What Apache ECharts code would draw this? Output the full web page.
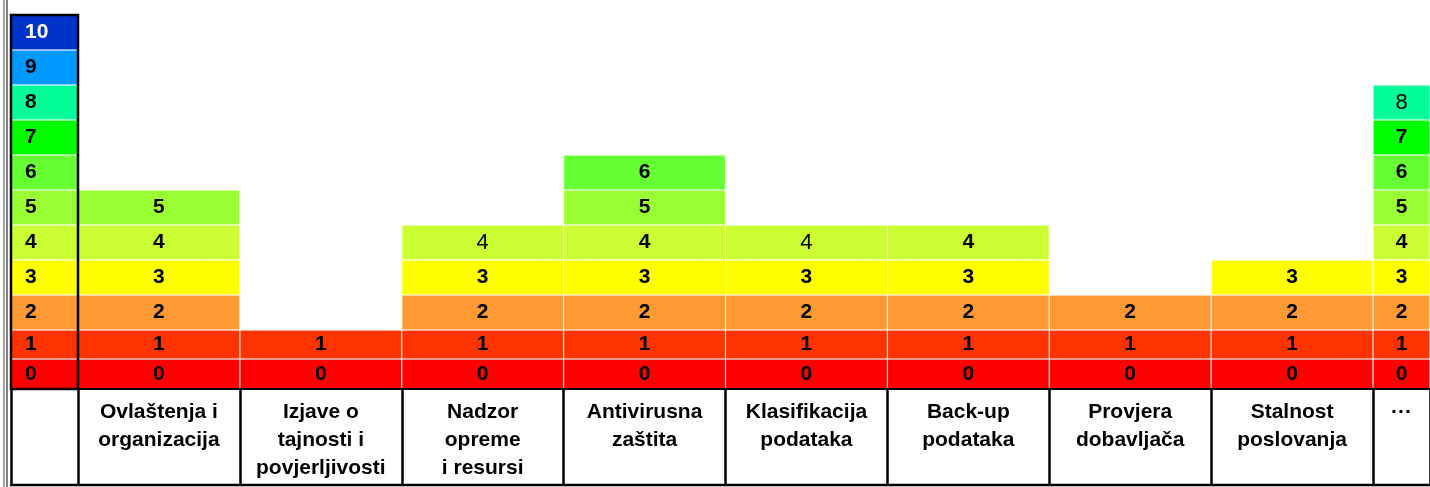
<!DOCTYPE html>
<html>
<head>
<meta charset="utf-8">
<script src="https://cdn.jsdelivr.net/npm/echarts@6/dist/echarts.min.js"></script>
<style>
html,body{margin:0;padding:0;background:#fff;}
#c{width:1430px;height:487px;}
</style>
</head>
<body>
<div id="c"></div>
<script>
// ---- data ----
const categories = ['Ovlaštenja i\norganizacija', 'Izjave o\ntajnosti i\npovjerljivosti', 'Nadzor\nopreme\ni resursi', 'Antivirusna\nzaštita', 'Klasifikacija\npodataka', 'Back-up\npodataka', 'Provjera\ndobavljača', 'Stalnost\nposlovanja'];
const maxLevels = [5, 1, 4, 6, 4, 4, 2, 3];
const moreCategory = ['···'];
const moreLevels = [8];
const scaleCategory = [''];
const scaleLevels = [10];
const levelLabels = ['0','1','2','3','4','5','6','7','8','9','10'];
// cells drawn with the plain (non-bold) font: [group, categoryIndex, level]
const plainCells = [['main', 2, 4], ['main', 4, 4], ['more', 0, 8]];

// ---- style ----
const levelColors = ['#FF0000','#FF3300','#FF9933','#FFFF00','#CCFF33','#99FF33','#66FF33','#00FF00','#00FF99','#0099FF','#0033CC'];
const cellHeights = [30, 29, 35, 35, 35, 35, 35, 35, 35, 35, 35];
const total = cellHeights.reduce((a, b) => a + b, 0);
const W = 1430, H = 487;
const TOP = 15, BOTTOM = 98, TABLE_H = 96;
const L0 = 11, L1 = 78, L2 = 1373;
const numFont = "'Liberation Sans', Arial, sans-serif";

const groups = [
  {name: 'scale', cats: scaleCategory, levels: scaleLevels, left: L0, width: L1 - L0},
  {name: 'main', cats: categories, levels: maxLevels, left: L1, width: L2 - L1},
  {name: 'more', cats: moreCategory, levels: moreLevels, left: L2, width: W - L2 + 4}
];

const grid = [], xAxis = [], yAxis = [], series = [];
groups.forEach((g, gi) => {
  grid.push({left: g.left, width: g.width, top: TOP, bottom: BOTTOM, containLabel: false});
  xAxis.push({
    type: 'category', gridIndex: gi, data: g.cats, z: 10,
    axisLine: {show: true, lineStyle: {color: '#000', width: 2}},
    axisTick: {show: true, length: TABLE_H, inside: false, lineStyle: {color: '#000', width: 2.5}},
    axisLabel: {
      interval: 0, color: '#000', fontFamily: "'Liberation Sans', Arial, sans-serif",
      fontWeight: 'bold', fontSize: 21, lineHeight: 28, margin: 9, align: 'center', verticalAlign: 'top'
    },
    splitLine: {show: false}
  });
  yAxis.push({type: 'value', gridIndex: gi, min: 0, max: total, show: false, splitLine: {show: false}});
  levelLabels.forEach((lab, lv) => {
    const data = g.levels.map((m, ci) => {
      if (lv > m) return '-';
      const item = {value: cellHeights[lv]};
      if (plainCells.some(p => p[0] === g.name && p[1] === ci && p[2] === lv)) {
        item.label = {fontWeight: 'normal', fontSize: 22};
      }
      return item;
    });
    series.push({
      type: 'bar', xAxisIndex: gi, yAxisIndex: gi, stack: 'g' + gi,
      barWidth: '100%', barCategoryGap: '0%', data: data,
      itemStyle: {color: levelColors[lv], borderColor: 'rgba(255,255,255,0.12)', borderWidth: 1},
      label: {
        show: true, formatter: () => lab,
        position: g.name === 'scale' ? 'insideLeft' : 'inside',
        distance: 14,
        color: lv === 10 ? '#fff' : '#000',
        fontFamily: numFont, fontWeight: 'bold', fontSize: 21
      },
      emphasis: {disabled: true},
      animation: false
    });
  });
});

const chart = echarts.init(document.getElementById('c'), null, {renderer: 'canvas'});
chart.setOption({
  backgroundColor: '#fff',
  animation: false,
  grid, xAxis, yAxis, series,
  graphic: [
    {type: 'line', z: 100, shape: {x1: 4, y1: 0, x2: 4, y2: H}, style: {stroke: '#444', lineWidth: 1}},
    {type: 'line', z: 100, shape: {x1: 7, y1: 0, x2: 7, y2: H}, style: {stroke: '#000', lineWidth: 1}},
    {type: 'line', z: 100, shape: {x1: L0 - 1, y1: H - BOTTOM + TABLE_H, x2: W, y2: H - BOTTOM + TABLE_H}, style: {stroke: '#000', lineWidth: 2.5}},
    {type: 'rect', z: 100, shape: {x: L0, y: TOP, width: L1 - L0, height: H - BOTTOM - TOP}, style: {fill: 'none', stroke: '#000', lineWidth: 2.5}}
  ]
});
</script>
</body>
</html>
